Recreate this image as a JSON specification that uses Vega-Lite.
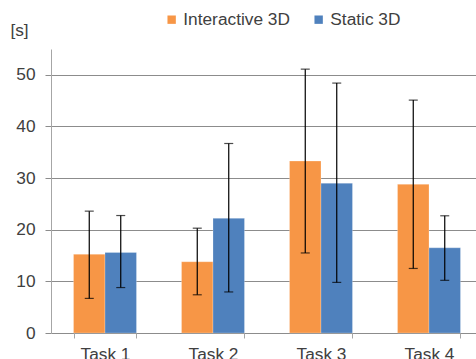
{
  "$schema": "https://vega.github.io/schema/vega-lite/v6.json",
  "width": 432,
  "height": 284,
  "autosize": {"type": "none"},
  "padding": {"left": 51, "top": 49, "right": 0, "bottom": 26},
  "background": "white",
  "config": {
    "view": {"stroke": null},
    "font": "Liberation Sans",
    "axis": {"labelFont": "Liberation Sans", "labelFontSize": 17.3, "labelColor": "#404040", "titleFont": "Liberation Sans"},
    "legend": {"labelFont": "Liberation Sans", "labelFontSize": 17.3, "labelColor": "#404040"}
  },
  "data": {
    "values": [
      {"task": "Task 1", "cond": "Interactive 3D", "mean": 15.25, "lo": 6.7, "hi": 23.6},
      {"task": "Task 1", "cond": "Static 3D", "mean": 15.6, "lo": 8.8, "hi": 22.75},
      {"task": "Task 2", "cond": "Interactive 3D", "mean": 13.8, "lo": 7.4, "hi": 20.3},
      {"task": "Task 2", "cond": "Static 3D", "mean": 22.2, "lo": 7.95, "hi": 36.7},
      {"task": "Task 3", "cond": "Interactive 3D", "mean": 33.3, "lo": 15.5, "hi": 51.1},
      {"task": "Task 3", "cond": "Static 3D", "mean": 29.0, "lo": 9.8, "hi": 48.4},
      {"task": "Task 4", "cond": "Interactive 3D", "mean": 28.8, "lo": 12.5, "hi": 45.1},
      {"task": "Task 4", "cond": "Static 3D", "mean": 16.5, "lo": 10.2, "hi": 22.7}
    ]
  },
  "encoding": {
    "x": {
      "field": "task", "type": "nominal",
      "scale": {"paddingInner": 0.417, "paddingOuter": 0.2085},
      "axis": {"title": null, "labelAngle": 0, "tickBand": "extent", "tickSize": 5, "tickColor": "#a6a6a6", "domain": false, "labelPadding": 7, "labelColor": "#404040"}
    },
    "xOffset": {"field": "cond", "type": "nominal", "scale": {"paddingInner": 0, "paddingOuter": 0}}
  },
  "layer": [
    {
      "mark": {"type": "bar", "stroke": "white", "strokeOpacity": 0.4, "strokeWidth": 0.6},
      "encoding": {
        "y": {
          "field": "mean", "type": "quantitative",
          "scale": {"domain": [0, 55], "nice": false},
          "axis": {
            "values": [0, 5, 10, 15, 20, 25, 30, 35, 40, 45, 50, 55],
            "labelExpr": "datum.value % 10 === 0 ? datum.label : ''",
            "gridColor": {"condition": {"test": "datum.value % 10 === 0", "value": "#8c8c8c"}, "value": "#c8c8c8"},
            "gridWidth": 1,
            "tickOpacity": {"condition": {"test": "datum.value % 10 === 0 && datum.value < 55", "value": 1}, "value": 0},
            "tickColor": "#8c8c8c",
            "tickSize": 6,
            "domainColor": "#a6a6a6",
            "labelPadding": 10,
            "title": "[s]",
            "titleAngle": 0,
            "titleFontSize": 17.3,
            "titleFontWeight": "normal",
            "titleColor": "#404040",
            "titleX": -32,
            "titleY": -19,
            "titleAlign": "center",
            "titleBaseline": "middle"
          }
        },
        "color": {
          "field": "cond", "type": "nominal",
          "scale": {"domain": ["Interactive 3D", "Static 3D"], "range": ["#F79646", "#4F81BD"]},
          "legend": {"title": null, "orient": "none", "direction": "horizontal", "legendX": 112, "legendY": -38, "symbolType": "square", "symbolSize": 70, "symbolStrokeWidth": 0, "columnPadding": 20, "labelOffset": 3}
        }
      }
    },
    {
      "mark": {"type": "rule", "color": "black", "strokeWidth": 1.2},
      "encoding": {"y": {"field": "lo", "type": "quantitative"}, "y2": {"field": "hi"}}
    },
    {
      "mark": {"type": "tick", "color": "black", "size": 9, "thickness": 1.2},
      "encoding": {"y": {"field": "lo", "type": "quantitative"}}
    },
    {
      "mark": {"type": "tick", "color": "black", "size": 9, "thickness": 1.2},
      "encoding": {"y": {"field": "hi", "type": "quantitative"}}
    }
  ]
}
